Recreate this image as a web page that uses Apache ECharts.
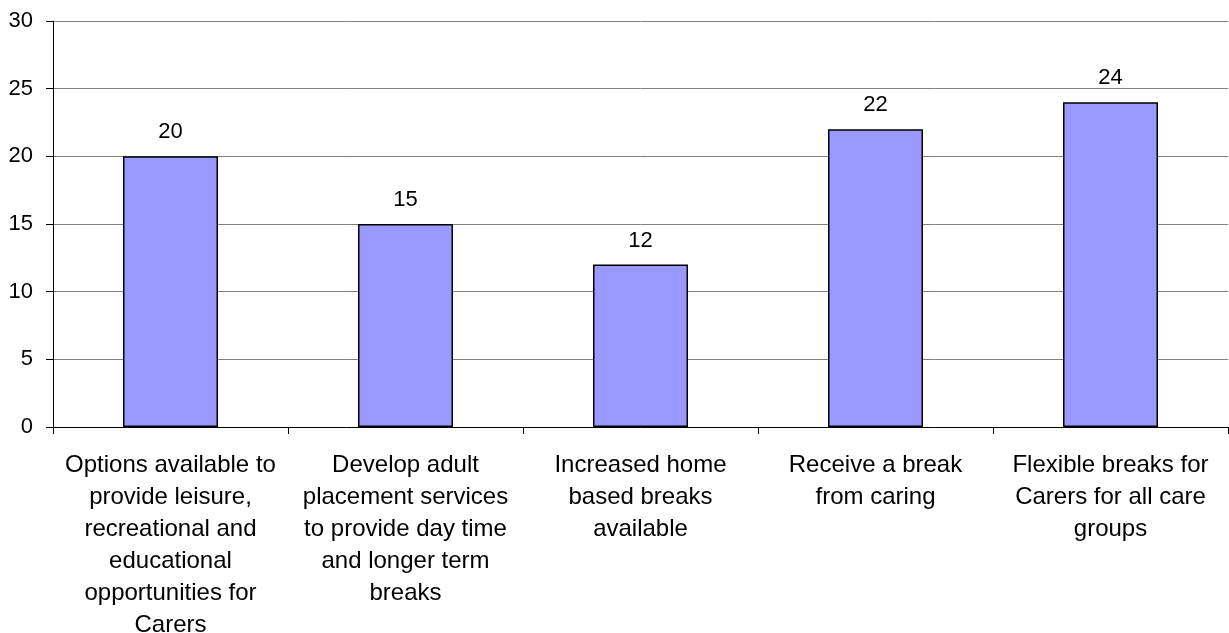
<!DOCTYPE html>
<html lang="en">
<head>
    <meta charset="UTF-8">
    <title>Carers breaks chart</title>
    <script src="https://cdn.jsdelivr.net/npm/echarts@6/dist/echarts.min.js"></script>
</head>
<body style="margin: 0; background: #fff">
<div id="chart" style="width: 1229px; height: 633px"></div>

<script>
    // categories (wrapped as in the original)
    const categories = [
        'Options available to\nprovide leisure,\nrecreational and\neducational\nopportunities for\nCarers',
        'Develop adult\nplacement services\nto provide day time\nand longer term\nbreaks',
        'Increased home\nbased breaks\navailable',
        'Receive a break\nfrom caring',
        'Flexible breaks for\nCarers for all care\ngroups'
    ];
    const counts = [20, 15, 12, 22, 24];

    let chart = echarts.init(document.getElementById('chart'));
    let option = {
        animation: false,
        textStyle: {
            fontFamily: 'Liberation Sans, Arial, sans-serif'
        },
        grid: {
            left: 53,
            right: 1,
            top: 21,
            bottom: 206,
            containLabel: false,
            outerBoundsMode: 'none'
        },
        xAxis: {
            type: 'category',
            data: categories,
            axisLine: {
                lineStyle: {color: '#000', width: 1}
            },
            axisTick: {
                show: true,
                length: 7,
                lineStyle: {color: '#000'}
            },
            axisLabel: {
                interval: 0,
                margin: 22,
                fontSize: 24,
                lineHeight: 32,
                color: '#000',
                align: 'center'
            }
        },
        yAxis: {
            type: 'value',
            min: 0,
            max: 30,
            interval: 5,
            axisLine: {
                show: true,
                lineStyle: {color: '#000', width: 1}
            },
            axisTick: {
                show: true,
                length: 7,
                lineStyle: {color: '#000'}
            },
            axisLabel: {
                margin: 20,
                fontSize: 22,
                color: '#000'
            },
            splitLine: {
                lineStyle: {color: '#808080', width: 1}
            }
        },
        series: [{
            type: 'bar',
            data: counts,
            barWidth: 95,
            itemStyle: {
                color: '#9999ff',
                borderColor: '#000',
                borderWidth: 1.5
            },
            label: {
                show: true,
                position: 'top',
                distance: 13,
                fontSize: 22,
                color: '#000'
            }
        }]
    };
    chart.setOption(option);
</script>
</body>
</html>
